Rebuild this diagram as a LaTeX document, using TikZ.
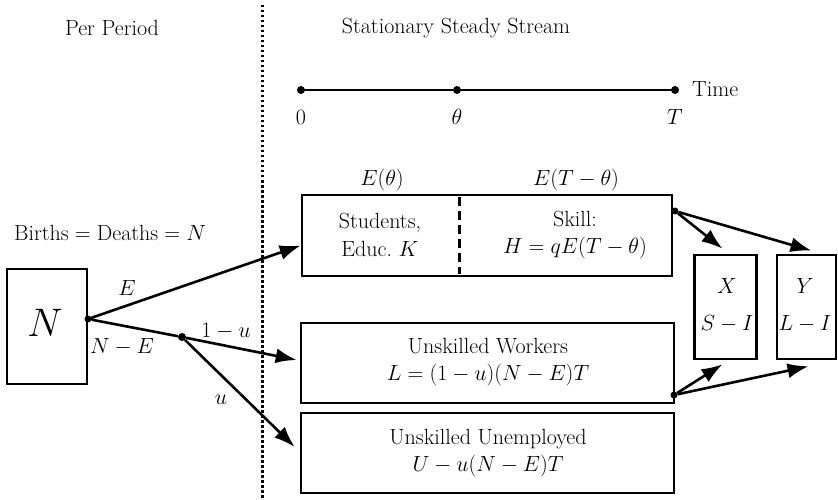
\documentclass[tikz,border=0pt]{standalone}
\usetikzlibrary{arrows.meta,calc}
\begin{document}
\begin{tikzpicture}[x=1pt,y=-1pt,
  box/.style={draw,line width=2.6pt,rectangle,inner sep=0pt},
  arr/.style={line width=2.6pt,-{Latex[length=21pt,width=15pt]}},
  dotn/.style={circle,fill,inner sep=0pt,minimum size=8pt},
  txt/.style={font=\fontsize{20.74}{26}\selectfont,align=center,inner sep=0pt,scale=1.06}]
\useasboundingbox (0,0) rectangle (838,500);
% separator
\draw[line width=3pt,dash pattern=on 2.5pt off 2.5pt] (262,5) coordinate (sepT) -- (262,500) coordinate (sepB);
% headings
\node[txt] (pp) at (112,28) {Per Period};
\node[txt] (sss) at (456,28) {Stationary Steady Stream};
% timeline
\node[dotn] (t0) at (301,90) {};
\node[dotn] (tth) at (457,90) {};
\node[dotn] (tT) at (675,90) {};
\draw[line width=2.6pt] (t0) -- (tth) -- (tT);
\node[txt,anchor=west] (time) at (692,89) {Time};
\node[txt] (l0) at (301,117) {$0$};
\node[txt] (lth) at (457,117) {$\theta$};
\node[txt] (lT) at (675,117) {$T$};
% top box
\node[box,minimum width=370pt,minimum height=81pt] (top) at (487,235.5) {};
\draw[line width=3pt,dash pattern=on 9pt off 5pt] (459,197) coordinate (dvT) -- (459,274) coordinate (dvB);
\node[txt] (eth) at (382,180) {$E(\theta)$};
\node[txt] (eTth) at (576,180) {$E(T-\theta)$};
\node[txt] (stud) at (380,235) {Students,\\Educ.\ $K$};
\node[txt] (skill) at (575,235) {Skill:\\$H=qE(T-\theta)$};
% births
\node[txt] (births) at (110,233) {Births${}={}$Deaths${}={}N$};
% N box
\node[box,minimum width=80pt,minimum height=115pt] (N) at (47,326.5) {};
\node[font=\fontsize{24.88}{26}\selectfont,inner sep=0pt,scale=1.6] (Nl) at (45,323) {$N$};
% branch points
\node[dotn,minimum size=7pt] (b1) at (88,319) {};
\node[dotn,minimum size=8pt] (b2) at (182,337) {};
% unskilled workers
\node[box,minimum width=373pt,minimum height=80pt] (uw) at (487.5,363) {};
\node[txt] (uwt) at (488,362) {Unskilled Workers\\$L=(1-u)(N-E)T$};
% unskilled unemployed
\node[box,minimum width=373pt,minimum height=80pt] (uu) at (487.5,453) {};
\node[txt] (uut) at (488,453) {Unskilled Unemployed\\$U-u(N-E)T$};
% X and Y
\node[box,minimum width=62pt,minimum height=104pt] (X) at (725.5,307) {};
\node[txt] (Xt) at (727,305) {$X$\\[9pt]$S-I$};
\node[box,minimum width=59pt,minimum height=104pt] (Y) at (806.5,307) {};
\node[txt] (Yt) at (805,305) {$Y$\\[9pt]$L-I$};
% arrows from N
\draw[line width=2.6pt] (N.east |- b1) -- (b1);
\draw[arr] (b1) -- ($(top.west)+(0,10)$);
\draw[line width=2.6pt] (b1) -- (b2);
\draw[arr] (b2) -- ($(uw.west)+(-3,-3)$);
\draw[arr] (b2) -- ($(uu.west)+(-5,-6)$);
\node[txt] (lE) at (127,288) {$E$};
\node[txt] (lNE) at (122,347) {$N-E$};
\node[txt] (l1u) at (226,331) {$1-u$};
\node[txt] (lu) at (221,400) {$u$};
% arrows to X, Y
\node[dotn,minimum size=7pt] (s1) at (675,211) {};
\node[dotn,minimum size=7pt] (s2) at (674,395) {};
\draw[arr] (s1) -- ($(X.north)+(-3,-5)$);
\draw[arr] (s1) -- ($(Y.north)+(5,-3)$);
\draw[arr] (s2) -- ($(X.south)+(-3,4)$);
\draw[arr] (s2) -- ($(Y.south)+(2,6)$);
\end{tikzpicture}
\end{document}
